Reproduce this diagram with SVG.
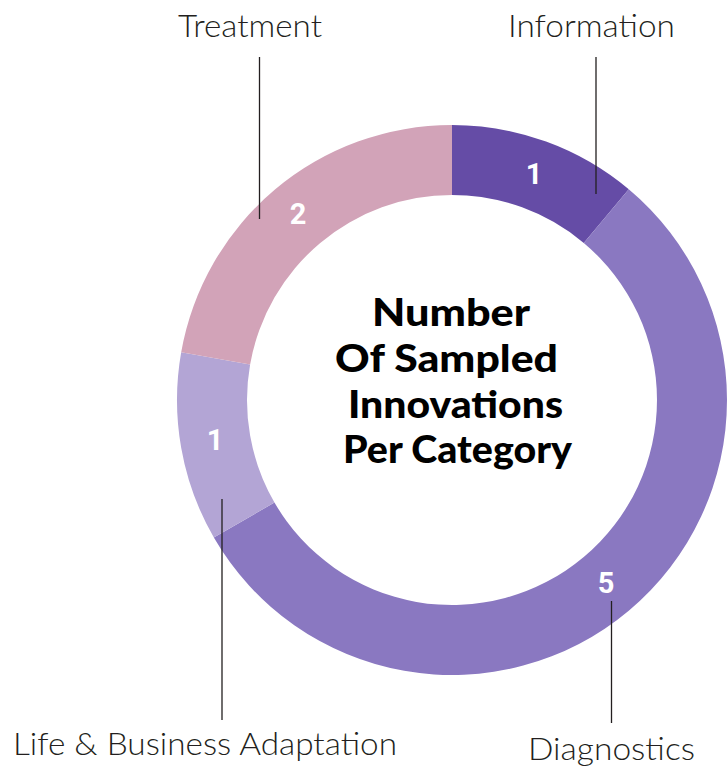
<svg xmlns="http://www.w3.org/2000/svg" width="728" height="767" viewBox="0 0 728 767">
<style>
.lbl{font-family:Lato,"Liberation Sans",sans-serif;font-weight:300;font-size:31px;fill:#231f20}
.num{font-family:Roboto,"Liberation Sans",sans-serif;font-weight:700;font-size:29px;fill:#ffffff;text-anchor:middle}
.ttl{font-family:Lato,"Liberation Sans",sans-serif;font-weight:900;font-size:37.5px;fill:#000}
.lead{stroke:#231f20;stroke-width:1.3;fill:none}
</style>
<rect width="728" height="767" fill="#ffffff"/>
<g id="ring">
<g id="seg-information"><path d="M452,125 A275,275 0 0 1 628.77,189.34 L583.77,242.96 A205,205 0 0 0 452,195 Z" fill="#654ca6"/><text class="num" x="534" y="184">1</text></g>
<g id="seg-diagnostics"><path d="M628.77,189.34 A275,275 0 1 1 213.84,537.5 L274.46,502.5 A205,205 0 1 0 583.77,242.96 Z" fill="#8a78c1"/><text class="num" x="606" y="593">5</text></g>
<g id="seg-life"><path d="M213.84,537.5 A275,275 0 0 1 181.18,352.25 L250.11,364.4 A205,205 0 0 0 274.46,502.5 Z" fill="#b3a5d5"/><text class="num" x="215" y="450">1</text></g>
<g id="seg-treatment"><path d="M181.18,352.25 A275,275 0 0 1 452,125 L452,195 A205,205 0 0 0 250.11,364.4 Z" fill="#d2a3b8"/><text class="num" x="298" y="224">2</text></g>
</g>
<g id="connectors">
<line class="lead" x1="259.5" y1="57" x2="259.5" y2="219"/>
<line class="lead" x1="596" y1="57" x2="596" y2="194"/>
<line class="lead" x1="222" y1="499" x2="222" y2="720"/>
<line class="lead" x1="611.5" y1="601" x2="611.5" y2="723"/>
</g>
<g id="label-treatment"><text class="lbl" x="178" y="37" textLength="144" lengthAdjust="spacingAndGlyphs">Treatment</text></g>
<g id="label-information"><text class="lbl" x="508" y="37" textLength="167" lengthAdjust="spacingAndGlyphs">Information</text></g>
<g id="label-life"><text class="lbl" x="13" y="755" textLength="384" lengthAdjust="spacingAndGlyphs">Life &amp; Business Adaptation</text></g>
<g id="label-diagnostics"><text class="lbl" x="528" y="760" textLength="167" lengthAdjust="spacingAndGlyphs">Diagnostics</text></g>
<g id="title">
<text class="ttl" x="372" y="326" textLength="158" lengthAdjust="spacingAndGlyphs">Number</text>
<text class="ttl" x="335" y="372" textLength="223" lengthAdjust="spacingAndGlyphs">Of Sampled</text>
<text class="ttl" x="348" y="418" textLength="215" lengthAdjust="spacingAndGlyphs">Innovations</text>
<text class="ttl" x="343" y="463" textLength="229" lengthAdjust="spacingAndGlyphs">Per Category</text>
</g>
</svg>
